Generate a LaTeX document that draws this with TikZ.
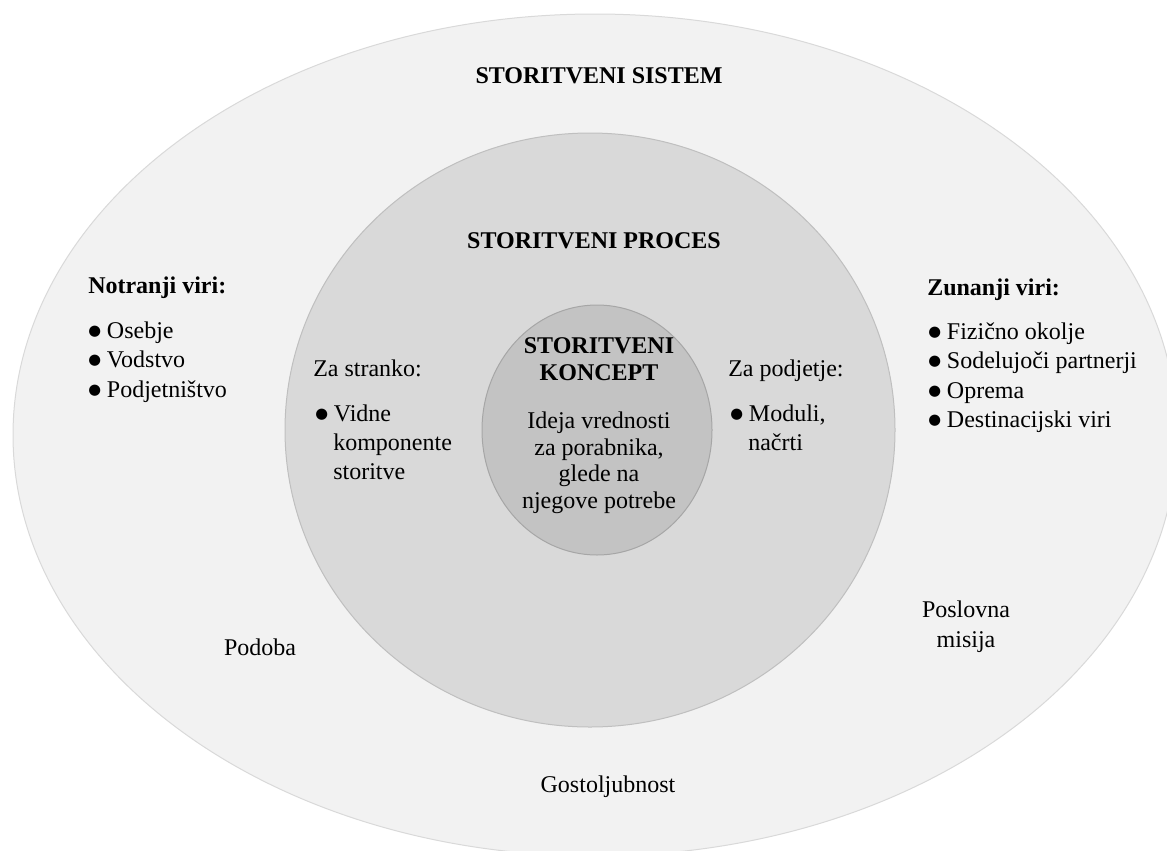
\documentclass[tikz,border=0pt]{standalone}
\usepackage{fontspec}
\setmainfont{Liberation Serif}
\newfontfamily\znaki{DejaVu Sans}
\definecolor{sistem}{HTML}{F2F2F2}
\definecolor{sistemrob}{HTML}{D9D9D9}
\definecolor{proces}{HTML}{D9D9D9}
\definecolor{procesrob}{HTML}{BFBFBF}
\definecolor{koncept}{HTML}{C3C3C3}
\definecolor{konceptrob}{HTML}{A6A6A6}
\newcommand{\pika}{\makebox[14pt][l]{\raisebox{2pt}{\znaki\fontsize{11}{11}\selectfont ●}}}

\begin{document}
\begin{tikzpicture}[x=0.75pt,y=-0.75pt,
    every node/.style={inner sep=0pt,font=\fontsize{18}{22}\selectfont},
    naslov/.style={anchor=base,font=\fontsize{18}{22}\selectfont\bfseries},
    vrstica/.style={anchor=base},
    postavka/.style={anchor=base west}]
  \useasboundingbox (0,0) rectangle (1167,850);
  \clip (0,0) rectangle (1167,850);
  % sistem, proces, koncept
  \draw[sistemrob, fill=sistem, line width=0.75pt] (595,435) ellipse (582 and 421);
  \draw[procesrob, fill=proces, line width=0.75pt] (590,430) ellipse (305 and 297);
  \draw[konceptrob, fill=koncept, line width=0.75pt] (597,430) ellipse (115 and 125);

  \node[naslov] (sistem) at (599,83) {STORITVENI SISTEM};
  \node[naslov] (proces) at (594,248) {STORITVENI PROCES};
  \node[naslov] (koncept1) at (599,353) {STORITVENI};
  \node[naslov] (koncept2) at (599,380) {KONCEPT};
  \foreach \t [count=\i] in {Ideja vrednosti, {za porabnika,}, glede na, njegove potrebe}
    \node[vrstica] (ideja\i) at (599,{402+26.5*\i}) {\t};

  % notranji viri
  \node[naslov,anchor=base west] (notranji) at (88,293) {Notranji viri:};
  \foreach \t [count=\i] in {Osebje, Vodstvo, Podjetništvo}
    \node[postavka] (notranji\i) at (88,{308.5+29.5*\i}) {\pika\t};

  % zunanji viri
  \node[naslov,anchor=base west] (zunanji) at (927,295) {Zunanji viri:};
  \foreach \t [count=\i] in {Fizično okolje, Sodelujoči partnerji, Oprema, Destinacijski viri}
    \node[postavka] (zunanji\i) at (928,{309.5+29.5*\i}) {\pika\t};

  % za stranko
  \node[postavka] (stranka) at (313,376) {Za stranko:};
  \node[postavka] (stranka1) at (315,421) {\pika Vidne};
  \node[postavka] (stranka2) at (333,450) {komponente};
  \node[postavka] (stranka3) at (333,479) {storitve};

  % za podjetje
  \node[postavka] (podjetje) at (728,376) {Za podjetje:};
  \node[postavka] (podjetje1) at (730,421) {\pika Moduli,};
  \node[postavka] (podjetje2) at (748,450) {načrti};

  \node[vrstica] (podoba) at (260,655) {Podoba};
  \node[vrstica] (misija1) at (966,617) {Poslovna};
  \node[vrstica] (misija2) at (966,647) {misija};
  \node[vrstica] (gost) at (608,792) {Gostoljubnost};
\end{tikzpicture}
\end{document}
